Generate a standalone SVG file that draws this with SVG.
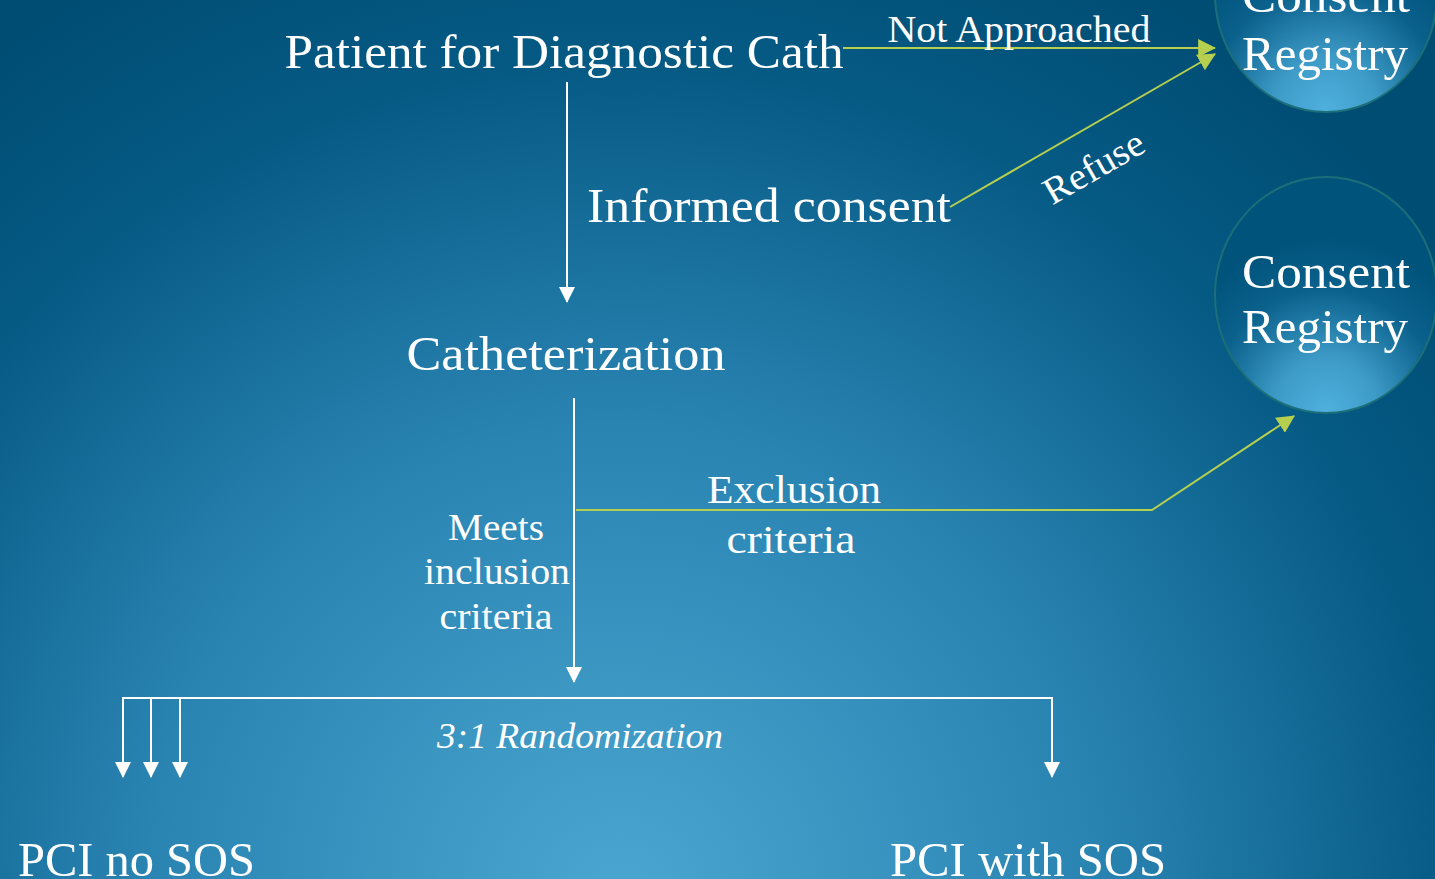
<svg xmlns="http://www.w3.org/2000/svg" width="1435" height="879" viewBox="0 0 1435 879">
<defs>
<radialGradient id="bg" cx="620" cy="900" r="1050" gradientUnits="userSpaceOnUse">
<stop offset="0" stop-color="#4ba7d1"/>
<stop offset="0.45" stop-color="#2a84b2"/>
<stop offset="0.8" stop-color="#055a84"/>
<stop offset="1" stop-color="#004d74"/>
</radialGradient>
<radialGradient id="circ" cx="0.5" cy="1" r="0.75" fx="0.5" fy="1">
<stop offset="0" stop-color="#4fb0de"/>
<stop offset="0.3" stop-color="#3f9cc8"/>
<stop offset="0.7" stop-color="#0a618c"/>
<stop offset="1" stop-color="#00537b"/>
</radialGradient>
<marker id="aw" markerWidth="16" markerHeight="16" viewBox="0 0 16 16" refX="15" refY="8" orient="auto" markerUnits="userSpaceOnUse">
<path d="M0,0 L16,8 L0,16 Z" fill="#ffffff"/>
</marker>
<marker id="ag" markerWidth="18" markerHeight="18" viewBox="0 0 16 16" refX="15" refY="8" orient="auto" markerUnits="userSpaceOnUse">
<path d="M0,0 L16,8 L0,16 Z" fill="#b6cf4e"/>
</marker>
</defs>
<style>
text { font-family: "Liberation Serif", "DejaVu Serif", serif; fill: #ffffff; }
.w { stroke: #ffffff; stroke-width: 2; fill: none; }
.g { stroke: #b6cf4e; stroke-width: 2; fill: none; }
.circle { fill: url(#circ); stroke: #1c6f78; stroke-width: 2; }
</style>
<rect x="0" y="0" width="1435" height="879" fill="url(#bg)"/>

<g id="connectors">
<line class="w" x1="567" y1="82" x2="567" y2="302" marker-end="url(#aw)"/>
<line class="g" x1="843" y1="48" x2="1215" y2="48" marker-end="url(#ag)"/>
<line class="g" x1="950" y1="207" x2="1215" y2="54" marker-end="url(#ag)"/>
<line class="w" x1="574" y1="398" x2="574" y2="682" marker-end="url(#aw)"/>
<polyline class="g" points="576,510 1152,510 1294,416" marker-end="url(#ag)"/>
<polyline class="w" points="123,777 123,698 1052,698 1052,777" marker-end="url(#aw)"/>
<line class="w" x1="123" y1="698" x2="123" y2="777" marker-end="url(#aw)"/>
<line class="w" x1="151" y1="698" x2="151" y2="777" marker-end="url(#aw)"/>
<line class="w" x1="180" y1="698" x2="180" y2="777" marker-end="url(#aw)"/>
<text x="1019" y="42" font-size="37" text-anchor="middle" textLength="263" lengthAdjust="spacingAndGlyphs">Not Approached</text>
<text x="0" y="0" font-size="38" text-anchor="middle" transform="translate(1100,178) rotate(-30)" textLength="110" lengthAdjust="spacingAndGlyphs">Refuse</text>
<text x="794" y="503" font-size="40" text-anchor="middle" textLength="174" lengthAdjust="spacingAndGlyphs">Exclusion</text>
<text x="791" y="553" font-size="40" text-anchor="middle" textLength="129" lengthAdjust="spacingAndGlyphs">criteria</text>
<text x="496" y="540" font-size="37" text-anchor="middle" textLength="96" lengthAdjust="spacingAndGlyphs">Meets</text>
<text x="497" y="584" font-size="37" text-anchor="middle" textLength="146" lengthAdjust="spacingAndGlyphs">inclusion</text>
<text x="496" y="629" font-size="37" text-anchor="middle" textLength="113" lengthAdjust="spacingAndGlyphs">criteria</text>
<text x="580" y="748" font-size="36" font-style="italic" text-anchor="middle" textLength="286" lengthAdjust="spacingAndGlyphs">3:1 Randomization</text>
</g>

<g id="patient">
<text x="564" y="68" font-size="48" text-anchor="middle" textLength="559" lengthAdjust="spacingAndGlyphs">Patient for Diagnostic Cath</text>
</g>
<g id="informed-consent">
<text x="769" y="222" font-size="48" text-anchor="middle" textLength="364" lengthAdjust="spacingAndGlyphs">Informed consent</text>
</g>
<g id="catheterization">
<text x="566" y="370" font-size="48" text-anchor="middle" textLength="319" lengthAdjust="spacingAndGlyphs">Catheterization</text>
</g>
<g id="pci-no-sos">
<text x="18" y="876" font-size="48" textLength="237" lengthAdjust="spacingAndGlyphs">PCI no SOS</text>
</g>
<g id="pci-with-sos">
<text x="890" y="876" font-size="48" textLength="276" lengthAdjust="spacingAndGlyphs">PCI with SOS</text>
</g>
<g id="registry-top">
<ellipse class="circle" cx="1326" cy="-6" rx="111" ry="118"/>
<text x="1326" y="12" font-size="48" text-anchor="middle" textLength="168" lengthAdjust="spacingAndGlyphs">Consent</text>
<text x="1325" y="70" font-size="48" text-anchor="middle" textLength="166" lengthAdjust="spacingAndGlyphs">Registry</text>
</g>
<g id="registry-consent">
<ellipse class="circle" cx="1326" cy="295" rx="111" ry="118"/>
<text x="1326" y="288" font-size="48" text-anchor="middle" textLength="168" lengthAdjust="spacingAndGlyphs">Consent</text>
<text x="1325" y="343" font-size="48" text-anchor="middle" textLength="166" lengthAdjust="spacingAndGlyphs">Registry</text>
</g>
</svg>
